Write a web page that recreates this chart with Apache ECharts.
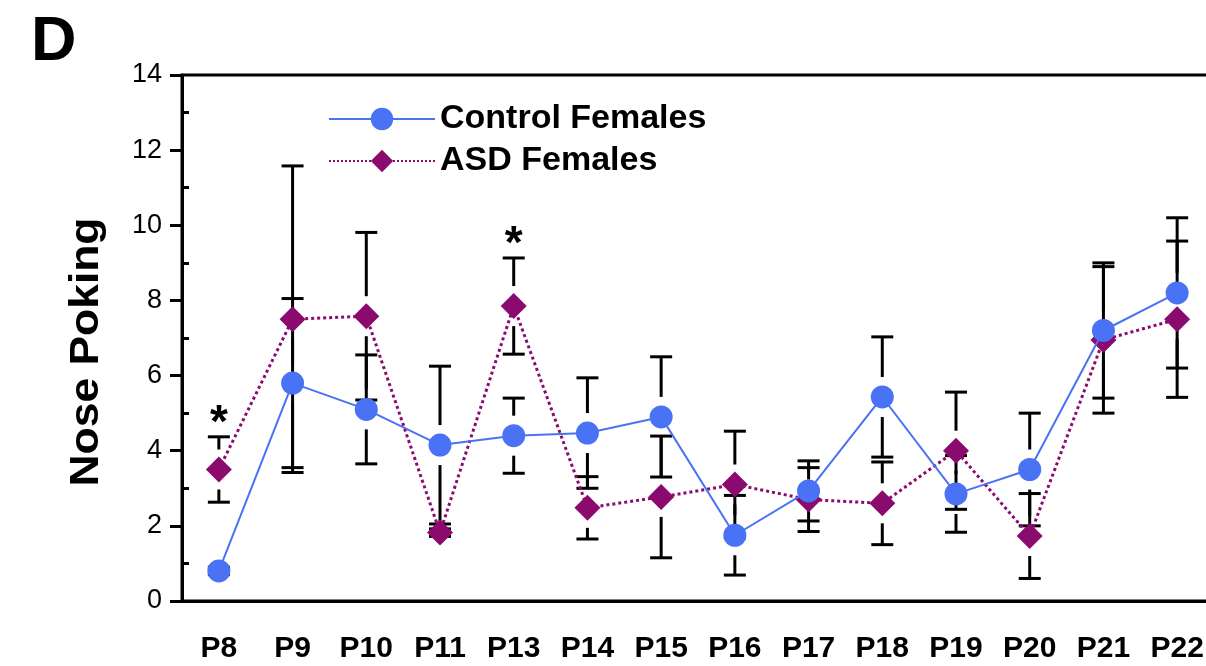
<!DOCTYPE html>
<html>
<head>
<meta charset="utf-8">
<script src="https://cdn.jsdelivr.net/npm/echarts@6/dist/echarts.min.js"></script>
<style>
  html, body { margin: 0; padding: 0; background: #fff; }
  #chart { width: 1206px; height: 666px; }
</style>
</head>
<body>
<div id="chart"></div>
<script>
// Postnatal days
const days = ['P8', 'P9', 'P10', 'P11', 'P13', 'P14', 'P15', 'P16', 'P17', 'P18', 'P19', 'P20', 'P21', 'P22'];

// Mean nose-poking counts and SEM per group
const controlMean = [0.8, 5.8, 5.1, 4.15, 4.4, 4.47, 4.9, 1.75, 2.93, 5.43, 2.85, 3.5, 7.2, 8.2];
const controlSem  = [0.1, 2.25, 1.45, 2.1, 1.0, 1.47, 1.6, 1.06, 0.8, 1.6, 1.02, 1.5, 1.8, 2.0];
const asdMean     = [3.5, 7.5, 7.58, 1.82, 7.85, 2.48, 2.77, 3.1, 2.7, 2.6, 4.0, 1.73, 6.95, 7.5];
const asdSem      = [0.87, 4.08, 2.23, 0.1, 1.28, 0.83, 1.62, 1.42, 0.85, 1.1, 1.56, 1.13, 1.95, 2.08];

// Days with a significant group difference
const significantDays = ['P8', 'P13'];

const yTicks = { min: 0, max: 14, step: 2 };

const FONT = '"Liberation Sans", Arial, sans-serif';
const BLUE = '#4a72f4';
const PURPLE = '#8b0a6e';

const chart = echarts.init(document.getElementById('chart'), null, { renderer: 'canvas' });

// SEM whiskers with a short gap around the marker
function errorBarItem(params, api) {
  const x = api.value(0), m = api.value(1), e = api.value(2);
  const c = api.coord([x, m]);
  const hi = api.coord([x, m + e]);
  const lo = api.coord([x, m - e]);
  const gap = 20, half = 11;
  const style = { stroke: '#000', lineWidth: 3 };
  const kids = [];
  if (c[1] - hi[1] > gap) {
    kids.push({ type: 'line', shape: { x1: c[0], y1: c[1] - gap, x2: hi[0], y2: hi[1] }, style });
  }
  kids.push({ type: 'line', shape: { x1: hi[0] - half, y1: hi[1], x2: hi[0] + half, y2: hi[1] }, style });
  if (lo[1] - c[1] > gap) {
    kids.push({ type: 'line', shape: { x1: c[0], y1: c[1] + gap, x2: lo[0], y2: lo[1] }, style });
  }
  kids.push({ type: 'line', shape: { x1: lo[0] - half, y1: lo[1], x2: lo[0] + half, y2: lo[1] }, style });
  return { type: 'group', children: kids };
}

const sigPoints = significantDays.map(d => {
  const i = days.indexOf(d);
  return { coord: [i, asdMean[i] + asdSem[i] + 0.33], value: '*' };
});

chart.setOption({
  animation: false,
  backgroundColor: '#fff',
  textStyle: { fontFamily: FONT },
  graphic: [
    {
      type: 'text', left: 31, top: 11,
      style: { text: 'D', font: 'bold 63px ' + FONT, fill: '#000' }
    },
    {
      type: 'text',
      x: 87, y: 352,
      rotation: Math.PI / 2,
      scaleX: 1.11,
      style: {
        text: 'Nose Poking', font: 'bold 40px ' + FONT, fill: '#000',
        align: 'center', verticalAlign: 'middle'
      }
    }
  ],
  legend: {
    orient: 'vertical',
    left: 328, top: 102,
    padding: 0,
    itemWidth: 106, itemHeight: 28, itemGap: 8,
    data: ['Control Females', 'ASD Females'],
    textStyle: { fontFamily: FONT, fontSize: 34, fontWeight: 'bold', color: '#000', lineHeight: 30 }
  },
  grid: {
    left: 182, top: 75, height: 526, width: 1032,
    containLabel: false,
    outerBoundsMode: 'none',
    show: true, borderColor: '#000', borderWidth: 3, backgroundColor: 'transparent'
  },
  xAxis: {
    type: 'category',
    data: days,
    boundaryGap: true,
    axisLine: { lineStyle: { color: '#000', width: 3 } },
    axisTick: { alignWithLabel: true, length: 17, lineStyle: { color: '#000', width: 3 } },
    axisLabel: { interval: 0, margin: 33, fontFamily: FONT, fontSize: 30, fontWeight: 'bold', color: '#000' },
    splitLine: { show: false }
  },
  yAxis: {
    type: 'value',
    min: yTicks.min, max: yTicks.max, interval: yTicks.step,
    axisLine: { show: true, lineStyle: { color: '#000', width: 3 } },
    axisTick: { show: true, length: 12, lineStyle: { color: '#000', width: 3 } },
    minorTick: { show: true, splitNumber: 2, length: -7, lineStyle: { color: '#000', width: 3 } },
    axisLabel: { margin: 20, fontFamily: FONT, fontSize: 27, color: '#000' },
    splitLine: { show: false }
  },
  series: [
    {
      type: 'custom',
      name: 'ASD SEM',
      z: 1,
      renderItem: errorBarItem,
      encode: { x: 0, y: 1 },
      data: days.map((d, i) => [i, asdMean[i], asdSem[i]]),
      silent: true
    },
    {
      type: 'custom',
      name: 'Control SEM',
      z: 1,
      renderItem: errorBarItem,
      encode: { x: 0, y: 1 },
      data: days.map((d, i) => [i, controlMean[i], controlSem[i]]),
      silent: true
    },
    {
      type: 'line',
      name: 'ASD Females',
      z: 2,
      data: asdMean,
      symbol: 'diamond',
      symbolSize: 26,
      showAllSymbol: true,
      lineStyle: { color: PURPLE, width: 3, type: 'dotted' },
      itemStyle: { color: PURPLE },
      markPoint: {
        symbol: 'circle', symbolSize: 1,
        itemStyle: { color: 'rgba(0,0,0,0)' },
        label: { show: true, position: 'inside', formatter: '*', fontFamily: FONT, fontSize: 46, fontWeight: 'bold', color: '#000' },
        data: sigPoints
      }
    },
    {
      type: 'line',
      name: 'Control Females',
      z: 3,
      data: controlMean,
      symbol: 'circle',
      symbolSize: 23,
      showAllSymbol: true,
      lineStyle: { color: BLUE, width: 2 },
      itemStyle: { color: BLUE }
    }
  ]
});
</script>
</body>
</html>
